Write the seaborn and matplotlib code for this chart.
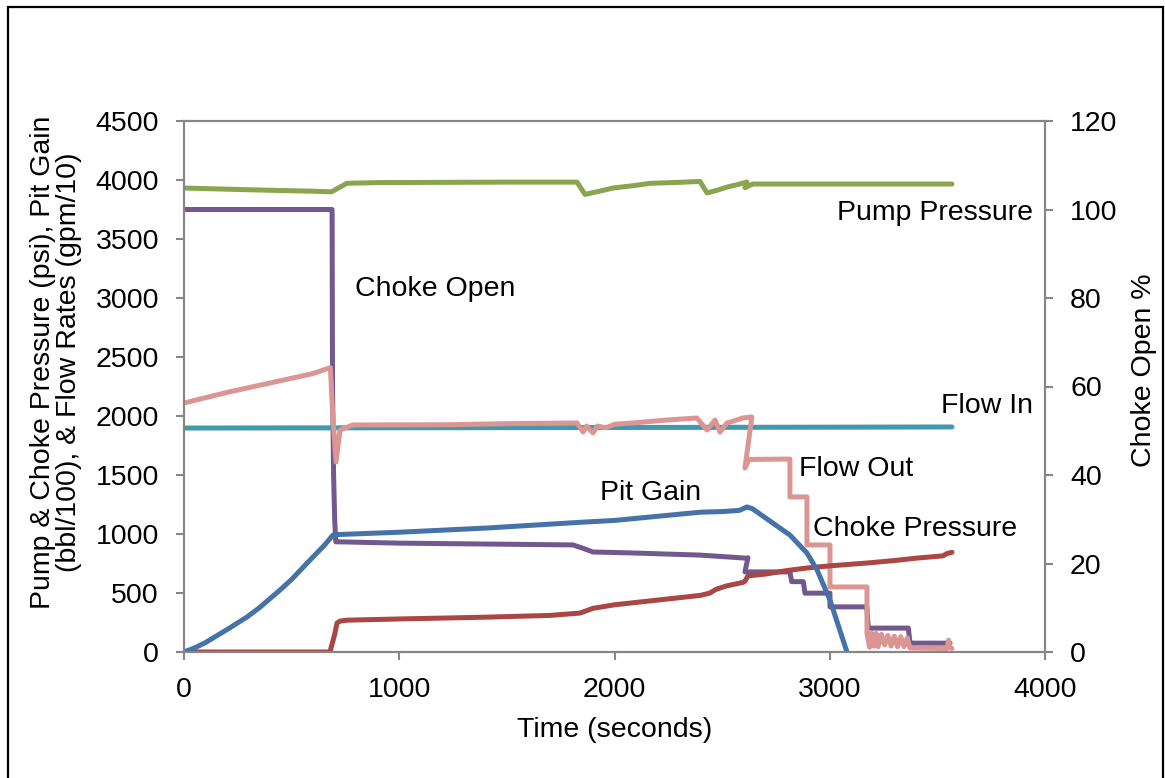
import matplotlib
matplotlib.use("Agg")
import matplotlib.pyplot as plt
from matplotlib.patches import Rectangle
import numpy as np
import pandas as pd
import seaborn as sns

# ---- series data: time (s) and value ----
pump_t = [0, 200, 400, 600, 685, 720, 757, 900, 1200, 1500, 1826, 1863, 1930,
          1993, 2100, 2165, 2300, 2397, 2430, 2480, 2523, 2580, 2615, 2606, 2643, 3568]
pump_v = [3932, 3922, 3913, 3905, 3900, 3935, 3972, 3978, 3980, 3982, 3982, 3878, 3905,
          3932, 3955, 3972, 3980, 3988, 3890, 3915, 3940, 3965, 3983, 3935, 3966, 3966]

flow_in_t = [0, 1800, 3568]
flow_in_v = [1898, 1902, 1907]

flow_out_t = [0, 200, 400, 600, 664, 680, 690, 706, 725, 785, 1000, 1222, 1500, 1826,
              1854, 1870, 1900, 1920, 1960, 2000, 2086, 2244, 2383, 2430, 2467, 2490,
              2523, 2597, 2638, 2606, 2625, 2815, 2815, 2894, 2894, 3001, 3001, 3173,
              3173, 3185, 3195, 3205, 3215, 3225, 3240, 3255, 3270, 3285, 3300, 3315,
              3330, 3345, 3360, 3373, 3545, 3552, 3558, 3568]
flow_out_v = [2110, 2200, 2280, 2360, 2400, 2410, 2050, 1610, 1881, 1924, 1925, 1926,
              1935, 1941, 1864, 1915, 1856, 1915, 1900, 1930, 1941, 1966, 1983, 1881,
              1966, 1864, 1941, 1983, 1992, 1559, 1632, 1635, 1314, 1314, 907, 907,
              551, 551, 161, 40, 160, 50, 158, 45, 150, 60, 140, 50, 135, 45, 130, 45,
              120, 34, 30, 100, 35, 30]

choke_p_t = [0, 678, 700, 711, 725, 760, 1000, 1400, 1700, 1840, 1870, 1900, 1950,
             2000, 2100, 2200, 2300, 2400, 2444, 2470, 2520, 2597, 2606, 2620, 2700,
             2800, 2894, 3000, 3173, 3300, 3400, 3526, 3545, 3568]
choke_p_v = [0, 0, 150, 246, 262, 270, 280, 295, 310, 330, 350, 370, 385,
             400, 420, 440, 460, 480, 500, 530, 560, 590, 600, 645, 660,
             690, 712, 730, 754, 775, 795, 815, 835, 845]

pit_t = [0, 50, 100, 135, 200, 293, 350, 446, 500, 599, 650, 692, 710, 1000, 1400,
         1850, 2000, 2200, 2400, 2500, 2580, 2615, 2640, 2815, 2894, 2940, 3001,
         3080, 3100]
pit_v = [0, 35, 80, 119, 190, 297, 375, 525, 615, 805, 900, 991, 995, 1015, 1050,
         1100, 1115, 1150, 1185, 1190, 1200, 1229, 1215, 991, 839, 700, 441,
         0, -120]

choke_open_t = [0, 688, 690, 695, 700, 705, 720, 1000, 1400, 1807, 1850, 1900, 2072,
                2200, 2397, 2614, 2620, 2606, 2614, 2815, 2823, 2877, 2885, 3001, 3001,
                3172, 3179, 3365, 3373, 3559]
choke_open_v = [100, 100, 60, 40, 30, 24.9, 24.9, 24.6, 24.4, 24.2, 23.5, 22.6, 22.4,
                22.2, 21.9, 21.2, 21.3, 18.1, 18.1, 18.1, 15.9, 15.9, 13.3, 13.3, 10.2,
                10.2, 5.4, 5.4, 2.0, 2.0]

series = [
    ("Pump Pressure", pump_t, pump_v, "#89A54E"),
    ("Flow In", flow_in_t, flow_in_v, "#4198AF"),
    ("Flow Out", flow_out_t, flow_out_v, "#DB9694"),
    ("Choke Pressure", choke_p_t, choke_p_v, "#AA4643"),
    ("Pit Gain", pit_t, pit_v, "#4572A7"),
]
choke_open_color = "#71588F"

# ---- styling ----
sns.set_theme(style="white")
plt.rcParams["font.family"] = ["Liberation Sans", "DejaVu Sans"]
plt.rcParams["text.color"] = "black"
plt.rcParams["axes.labelcolor"] = "black"
FS = 20.5
GRAY = "#868686"

fig = plt.figure(figsize=(11.65, 7.78), dpi=100)
ax = fig.add_axes([184 / 1165, 1 - 652 / 778, (1045 - 184) / 1165, (652 - 121) / 778])
ax2 = ax.twinx()
ax2.set_zorder(ax.get_zorder() - 1)
ax.patch.set_visible(False)

LW = 3.6
for name, t, v, c in series:
    df = pd.DataFrame({"t": t, "v": v})
    sns.lineplot(data=df, x="t", y="v", ax=ax, sort=False, estimator=None,
                 color=c, linewidth=LW, solid_capstyle="round", solid_joinstyle="round")

df_co = pd.DataFrame({"t": choke_open_t, "v": choke_open_v})
sns.lineplot(data=df_co, x="t", y="v", ax=ax2, sort=False, estimator=None,
             color=choke_open_color, linewidth=LW, solid_capstyle="round",
             solid_joinstyle="round")

# ---- axes ----
ax.set_xlim(0, 4000)
ax.set_ylim(0, 4500)
ax.set_xticks(np.arange(0, 4001, 1000))
ax.set_yticks(np.arange(0, 4501, 500))
ax2.set_ylim(0, 120)
ax2.set_yticks(np.arange(0, 121, 20))

for a in (ax, ax2):
    for s in a.spines.values():
        s.set_color(GRAY)
        s.set_linewidth(1.5)
    a.tick_params(axis="both", which="major", length=6, width=1.5, color=GRAY,
                  labelsize=FS, labelcolor="black", direction="out", pad=12)
ax.tick_params(axis="y", left=True, right=False)
ax.tick_params(axis="x", bottom=True)
ax2.tick_params(axis="y", right=True, left=False)

ax.set_xlabel("Time (seconds)", fontsize=FS, color="black", labelpad=10)
ax.set_ylabel("Pump & Choke Pressure (psi), Pit Gain\n(bbl/100), & Flow Rates (gpm/10)",
              fontsize=FS, color="black", linespacing=1.0)
ax.yaxis.set_label_coords(-0.1185, 0.546)
ax2.set_ylabel("Choke Open %", fontsize=FS, color="black")
ax2.yaxis.set_label_coords(1.100, 0.53)

# ---- series labels ----
lab = dict(fontsize=FS, color="black", va="baseline")
ax.text(3944, 3661, "Pump Pressure", ha="right", **lab)
ax.text(3944, 2025, "Flow In", ha="right", **lab)
ax.text(794, 3017, "Choke Open", ha="left", **lab)
ax.text(2857, 1492, "Flow Out", ha="left", **lab)
ax.text(1933, 1288, "Pit Gain", ha="left", **lab)
ax.text(2922, 983, "Choke Pressure", ha="left", **lab)

# outer frame
fig.patches.append(Rectangle((8 / 1165, -0.02), (1163 - 8) / 1165, 1.02 - 7 / 778,
                             transform=fig.transFigure, fill=False, edgecolor="black",
                             linewidth=1.6, clip_on=False))

fig.savefig("out.png", dpi=100)
